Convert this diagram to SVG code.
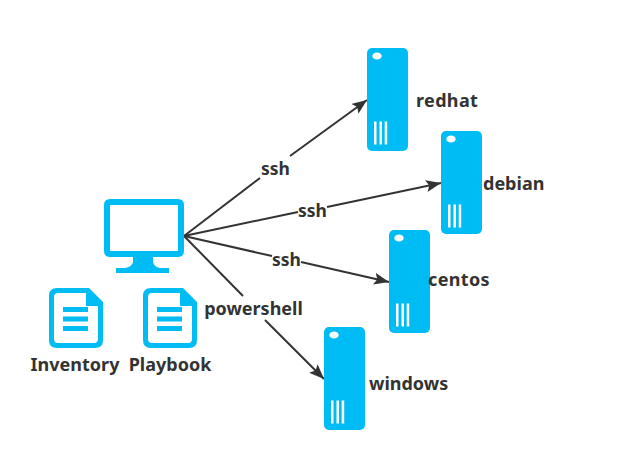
<svg xmlns="http://www.w3.org/2000/svg" width="624" height="462" viewBox="0 0 624 462">
<style>
.b{fill:#00bcf5}
.w{fill:#fff}
.c{stroke:#333;stroke-width:2;fill:none}
.t{font-family:"Noto Sans","Open Sans","Liberation Sans",sans-serif;font-weight:700;font-size:18px;fill:#333}
.n{letter-spacing:.35px}
.l{font-size:17.500px}
.p{font-size:18px}
</style>
<defs>
<marker id="a" markerUnits="userSpaceOnUse" markerWidth="18" markerHeight="14" refX="15" refY="6" orient="auto"><path d="M0 0L15 6L0 12L3 6Z" fill="#333"/></marker>
<g id="srv"><rect width="41" height="103" rx="5" class="b"/><ellipse cx="10" cy="8" rx="4.7" ry="3.6" class="w"/><rect x="7" y="73.500" width="2.500" height="23" class="w"/><rect x="12.500" y="73.500" width="2.500" height="23" class="w"/><rect x="17.700" y="73.500" width="2.500" height="23" class="w"/></g>
<g id="doc"><path d="M8 0H40L54 14V52Q54 60 46 60H8Q0 60 0 52V8Q0 0 8 0Z" class="b"/><path d="M9 5H37V18H49V51Q49 55 45 55H9Q5 55 5 51V9Q5 5 9 5Z" class="w"/><rect x="14" y="19" width="25" height="5" class="b"/><rect x="14" y="28.500" width="25" height="5" class="b"/><rect x="14" y="38" width="25" height="5" class="b"/></g>
</defs>
<rect width="624" height="462" fill="#fff"/>
<g id="connectors">
<path class="c" d="M184 236L260 178"/><path class="c" d="M290 156L367 100" marker-end="url(#a)"/>
<path class="c" d="M184 236L298 212"/><path class="c" d="M327 207L441 183" marker-end="url(#a)"/>
<path class="c" d="M184 236L272 256"/><path class="c" d="M301 262L389 282" marker-end="url(#a)"/>
<path class="c" d="M184 236L243 296"/><path class="c" d="M265 320L324 379" marker-end="url(#a)"/>
</g>
<g id="control"><path d="M110 199H178Q184 199 184 205V251Q184 257 178 257H153V262Q154 267 160 268H169V273H116V268H125Q132 267 133 262V257H110Q104 257 104 251V205Q104 199 110 199Z" class="b"/><rect x="110" y="205" width="68" height="46" class="w"/></g>
<g id="inventory"><use href="#doc" x="49" y="288"/><text class="t" x="75" y="371" text-anchor="middle">Inventory</text></g>
<g id="playbook"><use href="#doc" x="143" y="288"/><text class="t" x="170" y="371" text-anchor="middle">Playbook</text></g>
<g id="redhat"><use href="#srv" x="367" y="48"/><text class="t n" x="416" y="107">redhat</text></g>
<g id="debian"><use href="#srv" x="441" y="131"/><text class="t" x="483" y="190">debian</text></g>
<g id="centos"><use href="#srv" x="389" y="230"/><text class="t n" x="428" y="286">centos</text></g>
<g id="windows"><use href="#srv" x="324" y="327"/><text class="t" x="369" y="390">windows</text></g>
<g id="labels">
<text class="t l" x="275.500" y="175" text-anchor="middle">ssh</text>
<text class="t l" x="312.500" y="217" text-anchor="middle">ssh</text>
<text class="t l" x="286.500" y="266" text-anchor="middle">ssh</text>
<text class="t p" x="253.500" y="315" text-anchor="middle">powershell</text>
</g>
</svg>
